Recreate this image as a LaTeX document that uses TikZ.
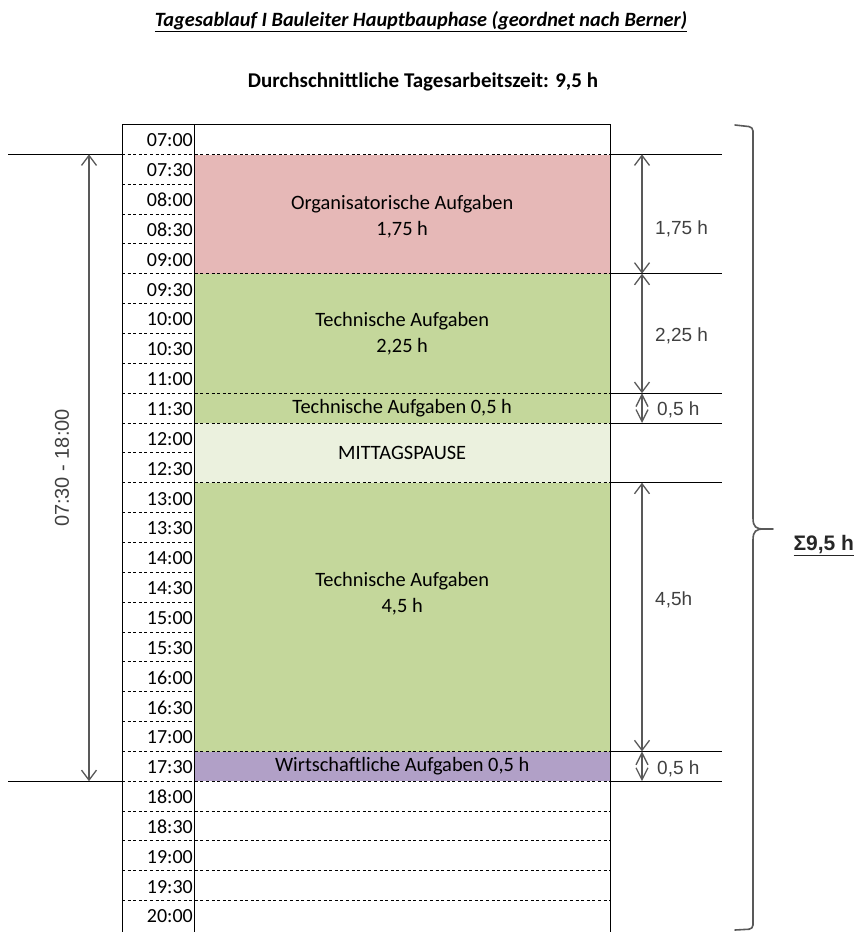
\documentclass[tikz,border=0pt]{standalone}
\usepackage{fontspec}
\setmainfont{Carlito}
\newfontfamily\arialfont{Liberation Sans}
\usetikzlibrary{arrows.meta,positioning}
\definecolor{orgred}{RGB}{230,184,183}
\definecolor{techgreen}{RGB}{196,215,155}
\definecolor{pausegreen}{RGB}{235,241,222}
\definecolor{wirtviolet}{RGB}{177,160,199}
\definecolor{dimgray}{RGB}{89,89,89}
\definecolor{labelgray}{RGB}{64,64,64}
\def\ytop{124.5}
\def\rh{29.85}

\begin{document}
\begin{tikzpicture}[x=1pt, y=-1pt,
    block/.style={draw=none, inner sep=0pt, minimum width=416pt, anchor=north west},
    btext/.style={font=\fontsize{20.4}{26}\selectfont, align=center, inner sep=0pt},
    tlabel/.style={font=\fontsize{20}{24}\selectfont, anchor=east, inner sep=0pt},
    rowline/.style={black, line width=0.9pt, dash pattern=on 3pt off 2.6pt},
    edge/.style={black, line width=1pt},
    dim/.style={{Straight Barb[length=10pt,width=15pt]}-{Straight Barb[length=10pt,width=15pt]},
                dimgray, line width=1.3pt},
    dimsmall/.style={{Straight Barb[length=12pt,width=12pt]}-{Straight Barb[length=12pt,width=12pt]},
                dimgray, line width=1.3pt},
    dlabel/.style={font=\arialfont\fontsize{19}{21}\selectfont, text=labelgray, anchor=west, inner sep=0pt},
    bracket/.style={dimgray, line width=1.6pt, line cap=round}
  ]
    \useasboundingbox (0,0) rectangle (856,932);

    \node[font=\bfseries\itshape\fontsize{20.3}{24}\selectfont] (title) at (421,22)
      {\underline{Tagesablauf I Bauleiter Hauptbauphase (geordnet nach Berner)}};
    \node[font=\bfseries\fontsize{21}{24}\selectfont] (subtitle) at (423,82)
      {Durchschnittliche Tagesarbeitszeit: 9,5 h};

    \foreach \nm/\k/\n/\col in {org/1/4/orgred, tech1/5/4/techgreen, tech2/9/1/techgreen,
                                pause/10/2/pausegreen, tech3/12/9/techgreen, wirt/21/1/wirtviolet}
      \node[block, fill=\col, minimum height={\n*\rh pt}] (\nm) at (194,{\ytop+\k*\rh}) {};

    \node[btext] (orgtxt) at ([yshift=-2pt]org.center) {Organisatorische Aufgaben\\1,75 h};
    \node[btext] (tech1txt) at (tech1) {Technische Aufgaben\\2,25 h};
    \node[btext] (tech2txt) at (tech2) {Technische Aufgaben 0,5 h};
    \node[btext] (pausetxt) at (pause) {MITTAGSPAUSE};
    \node[btext] (tech3txt) at ([yshift=24pt]tech3.center) {Technische Aufgaben\\4,5 h};
    \node[btext] (wirttxt) at (wirt) {Wirtschaftliche Aufgaben 0,5 h};

    \foreach \k in {2,3,4,6,7,8,11,13,14,15,16,17,18,19,20}
      \draw[rowline] (122,{\ytop+\k*\rh}) -- (194,{\ytop+\k*\rh});
    \foreach \k in {1,5,9,10,12,21,22,23,24,25,26}
      \draw[rowline] (122,{\ytop+\k*\rh}) -- (610,{\ytop+\k*\rh});

    \draw[edge] (122,932) -- (122,\ytop) -- (610,\ytop) -- (610,932);
    \draw[edge] (194,\ytop) -- (194,932);

    \foreach \t [count=\i from 0] in {07:00,07:30,08:00,08:30,09:00,09:30,10:00,10:30,11:00,
        11:30,12:00,12:30,13:00,13:30,14:00,14:30,15:00,15:30,16:00,16:30,17:00,17:30,
        18:00,18:30,19:00,19:30,20:00}
      \node[tlabel] (t\i) at (193,{\ytop+(\i+0.5)*\rh+1}) {\t};

    \foreach \k in {1,5,9,10,12,21,22}
      \draw[edge] (610,{\ytop+\k*\rh}) -- (722,{\ytop+\k*\rh});
    \foreach \k in {1,22}
      \draw[edge] (8,{\ytop+\k*\rh}) -- (122,{\ytop+\k*\rh});

    \coordinate (l1) at (89,{\ytop+\rh});
    \coordinate (l2) at (89,{\ytop+22*\rh});
    \draw[dim] (l1) -- (l2);
    \node[rotate=90, font=\arialfont\fontsize{20}{22}\selectfont, text=labelgray] (span) at (62,468)
      {07:30 - 18:00};

    \foreach \k [count=\i] in {1,5,9,10,12,21,22}
      \coordinate (r\i) at (642,{\ytop+\k*\rh});
    \draw[dim] (r1) -- (r2);
    \draw[dim] (r2) -- (r3);
    \draw[dimsmall] (r3) -- (r4);
    \draw[dim] (r5) -- (r6);
    \draw[dimsmall] (r6) -- (r7);

    \node[dlabel] (d1) at (655,229) {1,75 h};
    \node[dlabel] (d2) at (655,336) {2,25 h};
    \node[dlabel] (d3) at (657,410) {0,5 h};
    \node[dlabel] (d4) at (655,600) {4,5h};
    \node[dlabel] (d5) at (657,769) {0,5 h};

    \draw[bracket, rounded corners=4pt] (735,125) -- (753,127) -- (753,518);
    \draw[bracket] (753,518) .. controls (753,527) and (756,529) .. (764,529) -- (773,529);
    \draw[bracket] (764,529) .. controls (756,529) and (753,531) .. (753,540);
    \draw[bracket, rounded corners=4pt] (753,540) -- (753,929) -- (735,930);

    \node[font=\arialfont\bfseries\fontsize{21}{24}\selectfont, anchor=west, text=black!85] (sum) at (790,546)
      {\underline{Σ9,5 h}};
  \end{tikzpicture}
\end{document}
